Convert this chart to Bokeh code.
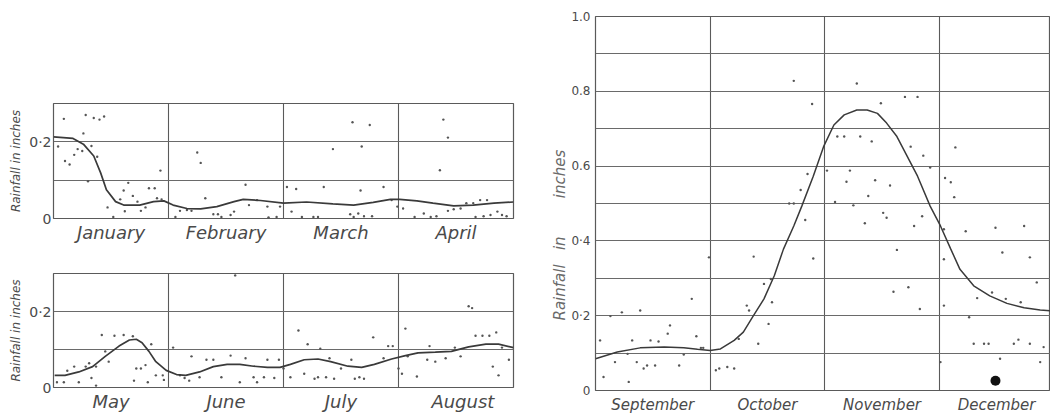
import math
from bokeh.plotting import figure
from bokeh.layouts import row, column
from bokeh.models import FixedTicker, Range1d, Title
from bokeh.embed import file_html
from bokeh.resources import INLINE

# ---------------- data (x in months from the start of each panel) ----------------
months_a = ["January", "February", "March", "April"]
months_b = ["May", "June", "July", "August"]
months_c = ["September", "October", "November", "December"]

curve_a_x = [0.00, 0.17, 0.26, 0.35, 0.41, 0.46, 0.54, 0.61, 0.75, 0.87, 0.96, 1.04, 1.16, 1.28, 1.42,
             1.57, 1.65, 1.80, 2.00, 2.20, 2.43, 2.61, 2.78, 2.93, 3.01, 3.16, 3.30, 3.48, 3.65, 3.83, 4.00]
curve_a_y = [0.213, 0.209, 0.194, 0.163, 0.119, 0.075, 0.044, 0.035, 0.035, 0.044, 0.046, 0.035, 0.026,
             0.025, 0.031, 0.044, 0.050, 0.047, 0.040, 0.043, 0.038, 0.035, 0.042, 0.050, 0.050, 0.046,
             0.040, 0.033, 0.035, 0.040, 0.043]

dots_a_x = [0.09, 0.04, 0.10, 0.14, 0.18, 0.21, 0.25, 0.26, 0.28, 0.35, 0.40, 0.44, 0.33, 0.38, 0.30,
            0.47, 0.52, 0.58, 0.61, 0.65, 0.69, 0.73, 0.62, 0.76, 0.80, 0.83, 0.88, 0.93, 0.90, 0.94,
            1.06, 1.10, 1.16, 1.20, 1.25, 1.28, 1.32, 1.39, 1.43, 1.46, 1.54, 1.57, 1.67, 1.70, 1.77,
            1.86, 1.87, 1.94, 1.97, 2.03, 2.11, 2.07, 2.16, 2.26, 2.30, 2.35, 2.43, 2.60, 2.67, 2.75,
            2.68, 2.58, 2.61, 2.65, 2.70, 2.77, 2.87, 2.94, 2.99, 3.04, 3.14, 3.22, 3.28, 3.36, 3.39,
            3.43, 3.33, 3.43, 3.48, 3.54, 3.59, 3.65, 3.71, 3.77, 3.67, 3.74, 3.80, 3.86, 3.90, 3.94]
dots_a_y = [0.260, 0.188, 0.150, 0.141, 0.166, 0.181, 0.176, 0.222, 0.270, 0.262, 0.258, 0.266, 0.189,
            0.161, 0.097, 0.029, 0.004, 0.050, 0.073, 0.093, 0.059, 0.044, 0.019, 0.020, 0.029, 0.079,
            0.079, 0.125, 0.053, 0.050, 0.004, 0.020, 0.022, 0.020, 0.172, 0.145, 0.053, 0.011, 0.011,
            0.004, 0.009, 0.018, 0.088, 0.035, 0.048, 0.031, 0.003, 0.004, 0.031, 0.082, 0.077, 0.018,
            0.004, 0.004, 0.004, 0.082, 0.181, 0.251, 0.073, 0.244, 0.188, 0.011, 0.004, 0.013, 0.006,
            0.006, 0.082, 0.048, 0.031, 0.026, 0.004, 0.013, 0.004, 0.126, 0.258, 0.211, 0.006, 0.020,
            0.024, 0.026, 0.040, 0.040, 0.048, 0.048, 0.004, 0.006, 0.009, 0.018, 0.009, 0.006]

curve_b_x = [0.01, 0.10, 0.22, 0.34, 0.45, 0.57, 0.66, 0.72, 0.77, 0.83, 0.89, 0.98, 1.07, 1.15, 1.27,
             1.39, 1.51, 1.62, 1.74, 1.86, 1.97, 2.06, 2.18, 2.30, 2.41, 2.56, 2.68, 2.79, 2.94, 3.06,
             3.17, 3.32, 3.46, 3.61, 3.76, 3.87, 4.00]
curve_b_y = [0.032, 0.032, 0.041, 0.055, 0.082, 0.109, 0.125, 0.127, 0.118, 0.095, 0.068, 0.045, 0.034,
             0.032, 0.041, 0.055, 0.061, 0.061, 0.056, 0.053, 0.053, 0.061, 0.073, 0.075, 0.068, 0.056,
             0.053, 0.061, 0.075, 0.084, 0.091, 0.093, 0.095, 0.107, 0.114, 0.114, 0.105]

dots_b_x = [0.03, 0.09, 0.12, 0.18, 0.22, 0.28, 0.31, 0.33, 0.37, 0.37, 0.42, 0.45, 0.48, 0.53, 0.61,
            0.69, 0.70, 0.72, 0.76, 0.80, 0.85, 0.82, 0.89, 0.95, 0.96, 1.04, 1.10, 1.14, 1.18, 1.20,
            1.27, 1.33, 1.39, 1.46, 1.54, 1.58, 1.62, 1.67, 1.74, 1.77, 1.83, 1.86, 1.92, 1.96, 2.00,
            2.06, 2.13, 2.18, 2.21, 2.27, 2.30, 2.32, 2.37, 2.40, 2.44, 2.50, 2.59, 2.62, 2.66, 2.70,
            2.78, 2.87, 2.91, 2.95, 3.00, 3.03, 3.06, 3.08, 3.16, 3.25, 3.27, 3.32, 3.41, 3.49, 3.54,
            3.61, 3.64, 3.67, 3.73, 3.79, 3.82, 3.85, 3.87, 3.90, 3.96]
dots_b_y = [0.014, 0.014, 0.044, 0.055, 0.014, 0.055, 0.064, 0.025, 0.005, 0.055, 0.138, 0.095, 0.068,
            0.136, 0.138, 0.135, 0.018, 0.050, 0.050, 0.059, 0.114, 0.014, 0.032, 0.032, 0.020, 0.105,
            0.032, 0.025, 0.018, 0.082, 0.027, 0.073, 0.073, 0.027, 0.084, 0.295, 0.014, 0.077, 0.027,
            0.014, 0.027, 0.073, 0.025, 0.073, 0.050, 0.027, 0.150, 0.036, 0.114, 0.023, 0.027, 0.102,
            0.027, 0.077, 0.023, 0.050, 0.073, 0.023, 0.027, 0.023, 0.132, 0.077, 0.109, 0.109, 0.050,
            0.036, 0.155, 0.082, 0.029, 0.073, 0.109, 0.068, 0.077, 0.105, 0.082, 0.214, 0.209, 0.136,
            0.136, 0.136, 0.055, 0.145, 0.032, 0.105, 0.073]

curve_c_x = [0.00, 0.19, 0.39, 0.60, 0.77, 0.89, 1.00, 1.09, 1.21, 1.29, 1.37, 1.47, 1.56, 1.64, 1.73,
             1.80, 1.90, 1.99, 2.08, 2.17, 2.28, 2.37, 2.46, 2.54, 2.63, 2.72, 2.81, 2.92, 3.01, 3.10,
             3.18, 3.30, 3.44, 3.59, 3.74, 3.88, 3.97]
curve_c_y = [0.085, 0.103, 0.114, 0.116, 0.114, 0.110, 0.107, 0.111, 0.134, 0.156, 0.196, 0.245, 0.307,
             0.378, 0.440, 0.493, 0.573, 0.652, 0.710, 0.737, 0.750, 0.750, 0.741, 0.715, 0.679, 0.626,
             0.573, 0.493, 0.440, 0.378, 0.324, 0.280, 0.253, 0.233, 0.221, 0.215, 0.213]

dots_c_x = [1.73, 1.89, 2.28, 2.49, 2.70, 2.81, 2.11, 2.17, 2.31, 2.41, 2.75, 2.86, 3.14, 2.92, 2.02,
            2.22, 1.85, 1.79, 2.19, 2.44, 2.57, 3.05, 3.10, 3.13, 2.38, 1.69, 1.73, 2.09, 2.25,
            1.83, 2.51, 2.54, 2.35, 2.78, 2.85, 3.04, 3.23, 3.49, 3.74, 3.55, 3.79, 2.63, 1.90, 1.38,
            0.99, 3.04, 2.60, 2.73, 2.83, 3.04, 3.33, 3.46, 3.58, 3.71, 3.85, 3.26, 1.53, 1.47, 1.54,
            1.51, 1.42, 1.32, 1.34, 1.25, 1.21, 1.15, 1.08, 1.05, 0.92, 0.94, 0.88, 0.84, 0.77, 0.73,
            0.65, 0.63, 0.55, 0.48, 0.45, 0.39, 0.32, 0.28, 0.23, 0.13, 0.04, 0.07, 0.17, 0.29, 0.36,
            0.42, 0.52, 3.30, 3.39, 3.43, 3.53, 3.65, 3.69, 3.79, 3.91, 3.88, 3.01]
dots_c_y = [0.828, 0.766, 0.821, 0.768, 0.785, 0.785, 0.679, 0.679, 0.679, 0.666, 0.652, 0.628, 0.650,
            0.596, 0.588, 0.588, 0.579, 0.536, 0.558, 0.562, 0.548, 0.568, 0.557, 0.517, 0.520, 0.500,
            0.500, 0.504, 0.495,
            0.456, 0.475, 0.462, 0.447, 0.440, 0.466, 0.431, 0.426, 0.435, 0.440, 0.369, 0.356, 0.376,
            0.353, 0.358, 0.356, 0.351, 0.264, 0.276, 0.218, 0.227, 0.247, 0.262, 0.245, 0.236, 0.289,
            0.196, 0.298, 0.285, 0.236, 0.178, 0.125, 0.227, 0.214, 0.138, 0.059, 0.063, 0.059, 0.054,
            0.114, 0.114, 0.145, 0.245, 0.096, 0.067, 0.174, 0.152, 0.131, 0.134, 0.067, 0.214, 0.134,
            0.098, 0.209, 0.199, 0.134, 0.036, 0.076, 0.023, 0.076, 0.059, 0.067, 0.125, 0.125, 0.125,
            0.085, 0.125, 0.136, 0.125, 0.116, 0.076, 0.076]

big_dot_x = [3.49]
big_dot_y = [0.026]

left_ticks = [0, 0.2]
left_tick_labels = ["0", "0·2"]
right_ticks = [0, 0.2, 0.4, 0.6, 0.8, 1.0]
right_tick_labels = ["0", "0·2", "0·4", "0.6", "0.8", "1.0"]
month_pos_a = [0.5, 1.5, 2.5, 3.5]
month_pos_b = [0.5, 1.5, 2.5, 3.56]
month_pos_c = [0.5, 1.5, 2.5, 3.5]

# ---------------- styling ----------------
INK = "#4a4a4a"
LINE = "#5a5a5a"
FONT = "DejaVu Sans"
NB = "\u00a0"


def panel(width, height, left, right, top, bottom, months, mpos, xmax, ymax,
          grid_y, ticks, tick_labels, ylabel, tick_font, month_font, month_standoff, ytick_standoff):
    p = figure(width=width, height=height, output_backend="svg", toolbar_location=None,
               x_range=Range1d(0, xmax), y_range=Range1d(0, ymax),
               min_border_left=left, min_border_right=right,
               min_border_top=top, min_border_bottom=bottom)
    p.background_fill_color = "white"
    p.border_fill_color = "white"
    p.outline_line_color = LINE
    p.outline_line_width = 1.2

    p.xgrid.ticker = FixedTicker(ticks=[1, 2, 3])
    p.xgrid.grid_line_color = LINE
    p.xgrid.grid_line_width = 1.1
    p.ygrid.ticker = FixedTicker(ticks=grid_y)
    p.ygrid.grid_line_color = "#6a6a6a"
    p.ygrid.grid_line_width = 1.0

    p.xaxis.ticker = FixedTicker(ticks=mpos)
    p.xaxis.major_label_overrides = {t: m for t, m in zip(mpos, months)}
    p.xaxis.major_label_text_font = FONT
    p.xaxis.major_label_text_font_style = "italic"
    p.xaxis.major_label_text_font_size = month_font
    p.xaxis.major_label_text_color = INK
    p.xaxis.major_label_text_line_height = 1.0
    p.xaxis.major_label_standoff = month_standoff

    p.yaxis.ticker = FixedTicker(ticks=ticks)
    p.yaxis.major_label_overrides = {t: s for t, s in zip(ticks, tick_labels)}
    p.yaxis.major_label_text_font = FONT
    p.yaxis.major_label_text_font_size = tick_font
    p.yaxis.major_label_text_color = INK
    p.yaxis.major_label_standoff = ytick_standoff
    if ylabel:
        p.yaxis.axis_label = ylabel
        p.yaxis.axis_label_text_font = FONT
        p.yaxis.axis_label_text_font_style = "italic"
        p.yaxis.axis_label_text_font_size = "12px"
        p.yaxis.axis_label_text_color = INK
        p.yaxis.axis_label_standoff = 3

    for ax in (p.xaxis[0], p.yaxis[0]):
        ax.axis_line_color = None
        ax.major_tick_line_color = None
        ax.minor_tick_line_color = None
        ax.major_tick_out = 0
        ax.major_tick_in = 0
        ax.minor_tick_out = 0
        ax.minor_tick_in = 0
    return p


p1 = panel(530, 250, 53, 17, 103, 32, months_a, month_pos_a, 4, 0.3, [0.1, 0.2],
           left_ticks, left_tick_labels, "Rainfall in inches", "14px", "18px", 3, 2)
p1.scatter(dots_a_x, dots_a_y, size=2.4, color="#555555", line_color=None)
p1.line(curve_a_x, curve_a_y, line_width=1.7, color="#3a3a3a")

p2 = panel(530, 166, 53, 17, 23, 29, months_b, month_pos_b, 4, 0.3, [0.1, 0.2],
           left_ticks, left_tick_labels, "Rainfall in inches", "14px", "18px", 3, 2)
p2.scatter(dots_b_x, dots_b_y, size=2.4, color="#555555", line_color=None)
p2.line(curve_b_x, curve_b_y, line_width=1.7, color="#3a3a3a")

p3 = panel(520, 416, 65, 0, 16, 24, months_c, month_pos_c, 3.97, 1.0,
           [0.1, 0.2, 0.3, 0.4, 0.5, 0.6, 0.7, 0.8, 0.9],
           right_ticks, right_tick_labels, None, "12px", "15px", 5, 5)
p3.scatter(dots_c_x, dots_c_y, size=2.4, color="#555555", line_color=None)
p3.scatter(big_dot_x, big_dot_y, size=10, color="#111111", line_color=None)
p3.line(curve_c_x, curve_c_y, line_width=1.5, color="#3a3a3a")
p3.add_layout(Title(text="Rainfall" + NB * 3 + "in" + NB * 8 + "inches", align="left", offset=70,
                    text_font=FONT, text_font_style="italic", text_font_size="15px",
                    text_color="#6a6a6a", standoff=0), "left")

layout = row(column(p1, p2), p3)
open("out.html", "w").write(file_html(layout, INLINE))
